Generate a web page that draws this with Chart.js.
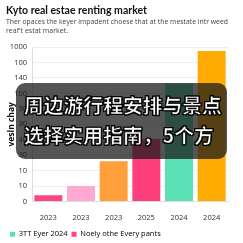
<!DOCTYPE html>
<html>
<head>
<meta charset="utf-8">
<script src="https://cdn.jsdelivr.net/npm/chart.js@4"></script>
<style>
  html, body { margin: 0; padding: 0; background: #fff; }
  #wrap { position: relative; width: 243px; height: 243px; }
  #overlay {
    position: absolute; left: 16px; top: 83px; width: 211px; height: 76px;
    background: rgba(25, 25, 25, 0.74); border-radius: 9px;
    font-family: "Noto Sans CJK SC", sans-serif; font-weight: bold;
    font-size: 19.8px; line-height: 30px; color: #fff;
    padding: 7px 0 0 8px; box-sizing: border-box; white-space: nowrap; overflow: hidden;
    -webkit-text-stroke: 0.6px #000;
    text-shadow: 1px 1px 0 #000, -1px -1px 0 #000, 1px -1px 0 #000, -1px 1px 0 #000;
  }
</style>
</head>
<body>
<div id="wrap">
  <canvas id="chart" width="243" height="243"></canvas>
  <div id="overlay">周边游行程安排与景点<br>选择实用指南，5个方</div>
</div>
<script>
var categories = ['2023', '2023', '2023', '2025', '2024', '2024'];
var values = [40, 100, 260, 405, 765, 975];
var barColors = ['#ff4482', '#ffa8d4', '#ffa03a', '#ff3f7c', '#5ce0b5', '#ffaa00'];
var tickLabels = ['0', '10', '10', '30', '40', '30', '30', '100', '140', '100', '1000'];
var legendNames = ['3TT Eyer 2024', 'Noely othe Every pants'];
var legendColors = ['#5ce0b5', '#ff4482'];

var font = 'Open Sans';

new Chart(document.getElementById('chart').getContext('2d'), {
  type: 'bar',
  data: {
    labels: categories,
    datasets: [{
      data: values,
      backgroundColor: barColors,
      barPercentage: 0.9,
      categoryPercentage: 0.95
    }]
  },
  options: {
    responsive: false,
    animation: false,
    layout: { padding: { left: 6, right: 15, top: 1, bottom: -5 } },
    plugins: {
      title: {
        display: true,
        text: 'Kyto real estae renting market',
        align: 'start',
        color: '#111',
        font: { family: 'Lato', size: 10.5, weight: 'bold' },
        padding: { top: 3, bottom: 1 }
      },
      subtitle: {
        display: true,
        text: ['Ther opaces the keyer impadent choese that at the mestate intr weed', "reaf't estat market."],
        align: 'start',
        color: '#444',
        font: { family: font, size: 7, lineHeight: 1.25 },
        padding: { bottom: 12 }
      },
      legend: {
        position: 'bottom',
        align: 'start',
        labels: {
          color: '#333',
          font: { family: font, size: 7.5 },
          boxWidth: 5, boxHeight: 5,
          padding: 4,
          generateLabels: function () {
            return legendNames.map(function (n, i) {
              return { text: n, fillStyle: legendColors[i], strokeStyle: legendColors[i], lineWidth: 0, datasetIndex: 0 };
            });
          }
        }
      },
      tooltip: { enabled: false }
    },
    scales: {
      x: {
        grid: { display: false },
        border: { color: '#ddd' },
        ticks: { color: '#333', font: { family: font, size: 7.5 }, padding: 4 }
      },
      y: {
        min: 0, max: 1000,
        afterFit: function (scale) { scale.width = 26; },
        grid: { color: '#eee', drawTicks: false },
        border: { color: '#ddd' },
        ticks: {
          stepSize: 100,
          color: '#333',
          font: { family: font, size: 7.5 },
          padding: 5,
          callback: function (v, i) { return tickLabels[i]; }
        },
        title: {
          display: true,
          text: 'vesln chay',
          color: '#111',
          font: { family: font, size: 8.5, weight: 'bold' },
          padding: 0
        }
      }
    }
  }
});
</script>
</body>
</html>
